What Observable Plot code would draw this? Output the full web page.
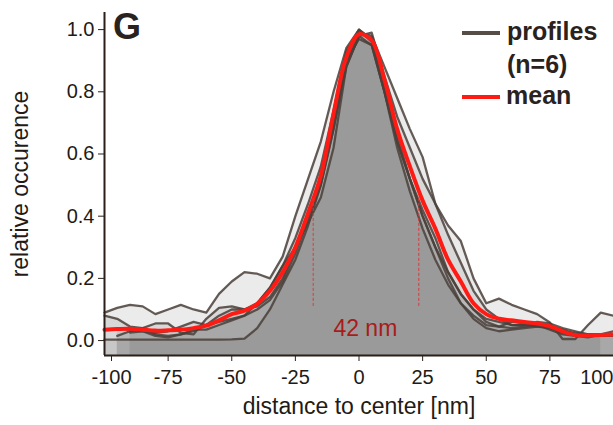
<!DOCTYPE html>
<html><head><meta charset="utf-8">
<script src="https://cdn.jsdelivr.net/npm/d3@7"></script>
<script src="https://cdn.jsdelivr.net/npm/@observablehq/plot@0.6"></script>
<style>
body{margin:0;background:#fff;}
#wrap{position:relative;width:613px;height:425px;font-family:"Liberation Sans",Arial,sans-serif;color:#2a221d;}
.lg{position:absolute;font-weight:bold;font-size:25px;line-height:1;white-space:nowrap;}
.sw{position:absolute;height:4px;width:38px;}
</style></head><body>
<div id="wrap"></div>
<script>
// distance to center [nm]
const xs = [-100,-95,-90,-85,-80,-75,-70,-65,-60,-55,-50,-45,-40,-35,-30,-25,-20,-15,-10,-5,0,5,10,15,20,25,30,35,40,45,50,55,60,65,70,75,80,85,90,95,100];
// six individual profiles (relative occurence)
const profile1 = [0.09,0.105,0.115,0.11,0.085,0.10,0.115,0.10,0.09,0.15,0.19,0.22,0.215,0.20,0.27,0.40,0.52,0.64,0.80,0.94,1.0,0.97,0.82,0.66,0.52,0.40,0.30,0.22,0.15,0.10,0.07,0.06,0.05,0.05,0.045,0.04,0.03,0.025,0.02,0.02,0.02];
const profile2 = [0.08,0.07,0.045,0.04,0.02,0.015,0.02,0.03,0.05,0.08,0.10,0.10,0.11,0.14,0.20,0.30,0.40,0.52,0.70,0.90,0.99,0.98,0.88,0.78,0.68,0.59,0.44,0.37,0.32,0.20,0.12,0.135,0.115,0.10,0.085,0.058,0.005,0.005,0.05,0.09,0.08];
const profile3 = [0.003,0.003,0.003,0.003,0.003,0.003,0.003,0.003,0.003,0.003,0.004,0.006,0.04,0.10,0.18,0.26,0.37,0.50,0.68,0.88,0.98,0.95,0.80,0.62,0.48,0.36,0.26,0.18,0.12,0.07,0.04,0.03,0.035,0.04,0.045,0.045,0.035,0.02,0.015,0.015,0.015];
const profile4 = [null,0.015,0.03,0.04,0.055,0.055,0.025,0.02,0.07,0.105,0.11,0.10,0.12,0.17,0.24,0.33,0.44,0.56,0.74,0.93,1.0,0.96,0.80,0.64,0.52,0.42,0.33,0.22,0.15,0.10,0.06,0.045,0.04,0.045,0.05,0.035,0.02,0.015,0.01,0.02,0.03];
const profile5 = [null,null,0.026,0.03,0.015,0.01,0.02,0.035,0.035,0.05,0.065,0.08,0.10,0.13,0.19,0.28,0.39,0.50,0.68,0.90,0.97,0.95,0.80,0.64,0.52,0.40,0.30,0.20,0.12,0.08,0.05,0.045,0.06,0.055,0.05,0.04,0.025,0.02,0.02,0.015,null];
const profile6 = [null,0.04,0.035,0.03,0.025,0.03,0.045,0.06,0.05,0.06,0.07,0.08,0.12,0.17,0.24,0.30,0.38,0.46,0.62,0.88,0.98,0.99,0.85,0.72,0.62,0.52,0.44,0.34,0.25,0.16,0.10,0.07,0.05,0.05,0.06,0.055,0.04,0.03,0.02,0.02,0.02];
const profiles = [profile1, profile2, profile3, profile4, profile5, profile6];
// mean of the profiles
const meanProfile = [0.035,0.037,0.038,0.035,0.032,0.033,0.035,0.04,0.048,0.065,0.085,0.096,0.118,0.16,0.22,0.30,0.41,0.53,0.73,0.91,0.985,0.965,0.84,0.68,0.56,0.45,0.36,0.26,0.19,0.12,0.085,0.07,0.065,0.06,0.055,0.046,0.03,0.018,0.016,0.018,0.02];
// full width at half maximum markers
const fwhmEdges = [-18, 23.5];
const fwhmSpan = [0.11, 0.46];
const fwhmLabel = ["42 nm"];
const fwhmLabelPos = [2.5, 0.038];
// axes
const xTicks = [-100,-75,-50,-25,0,25,50,75,100];
const yTicks = [0,0.2,0.4,0.6,0.8,1.0];
const xDomain = [-100, 100];
const yDomain = [-0.048, 1.055];

const rows = [];
profiles.forEach((p, i) => p.forEach((v, j) => { if (v != null) rows.push({x: xs[j], y: v, id: i}); }));
const meanRows = xs.map((x, j) => ({x, y: meanProfile[j]}));

const axisColor = "#2b1f19";
const fmtX = d => String(d);
const chart = Plot.plot({
  width: 613, height: 425,
  marginLeft: 104, marginRight: 0, marginTop: 12, marginBottom: 70,
  style: {fontFamily: "'Liberation Sans', Arial, sans-serif", fontSize: "19px", color: "#231a15", background: "transparent", overflow: "visible"},
  x: {domain: xDomain},
  y: {domain: yDomain},
  marks: [
    Plot.areaY(rows, {x: "x", y1: yDomain[0], y2: "y", z: "id", fill: "#000", fillOpacity: 0.079}),
    Plot.lineY(rows, {x: "x", y: "y", z: "id", stroke: "#4a3f3a", strokeWidth: 2.3, strokeOpacity: 0.85}),
    Plot.lineY(meanRows, {x: "x", y: "y", stroke: "#ff1a14", strokeWidth: 4, curve: "catmull-rom"}),
    Plot.ruleX(fwhmEdges, {y1: fwhmSpan[0], y2: fwhmSpan[1], stroke: "#d83a3a", strokeWidth: 1, strokeDasharray: "3,2"}),
    Plot.text(fwhmLabel, {x: fwhmLabelPos[0], y: fwhmLabelPos[1], fill: "#a81d1a", fontSize: 23}),
    Plot.ruleX([xDomain[0]], {stroke: axisColor, strokeWidth: 2}),
    Plot.ruleY([yDomain[0]], {stroke: axisColor, strokeWidth: 2}),
    Plot.axisX({ticks: xTicks.slice(1, -1), tickFormat: fmtX, tickSize: 6, tickPadding: 8, fontSize: 20, label: null, stroke: axisColor}),
    Plot.axisX({ticks: [xTicks[0]], tickFormat: fmtX, tickSize: 6, tickPadding: 8, dx: 7, fontSize: 20, label: null, stroke: axisColor}),
    Plot.axisX({ticks: [xTicks[xTicks.length - 1]], tickFormat: fmtX, tickSize: 6, tickPadding: 8, textAnchor: "end", fontSize: 20, label: null, stroke: axisColor}),
    Plot.axisY({ticks: yTicks, tickFormat: d3.format(".1f"), tickSize: 6, tickPadding: 4, fontSize: 20, label: null, stroke: axisColor}),
    Plot.text(["distance to center [nm]"], {frameAnchor: "bottom", dy: 58, fontSize: 23, fill: "#231a15"}),
    Plot.text(["relative occurence"], {frameAnchor: "left", dx: -84, rotate: -90, textAnchor: "middle", fontSize: 23, fill: "#231a15"})
  ]
});
const wrap = document.getElementById("wrap");
wrap.appendChild(chart);
chart.style.position = "absolute"; chart.style.left = "0"; chart.style.top = "0";

function addDiv(cls, text, css) {
  const d = document.createElement("div");
  d.className = cls; if (text) d.textContent = text;
  Object.assign(d.style, css); wrap.appendChild(d); return d;
}
addDiv("lg", "G", {left: "113px", top: "9px", fontSize: "36px"});
addDiv("sw", "", {left: "462px", top: "31px", background: "#574d47"});
addDiv("lg", "profiles", {left: "507px", top: "19px"});
addDiv("lg", "(n=6)", {left: "507px", top: "52px"});
addDiv("sw", "", {left: "462px", top: "95px", background: "#ff1a14"});
addDiv("lg", "mean", {left: "506px", top: "83px"});
</script></body></html>
